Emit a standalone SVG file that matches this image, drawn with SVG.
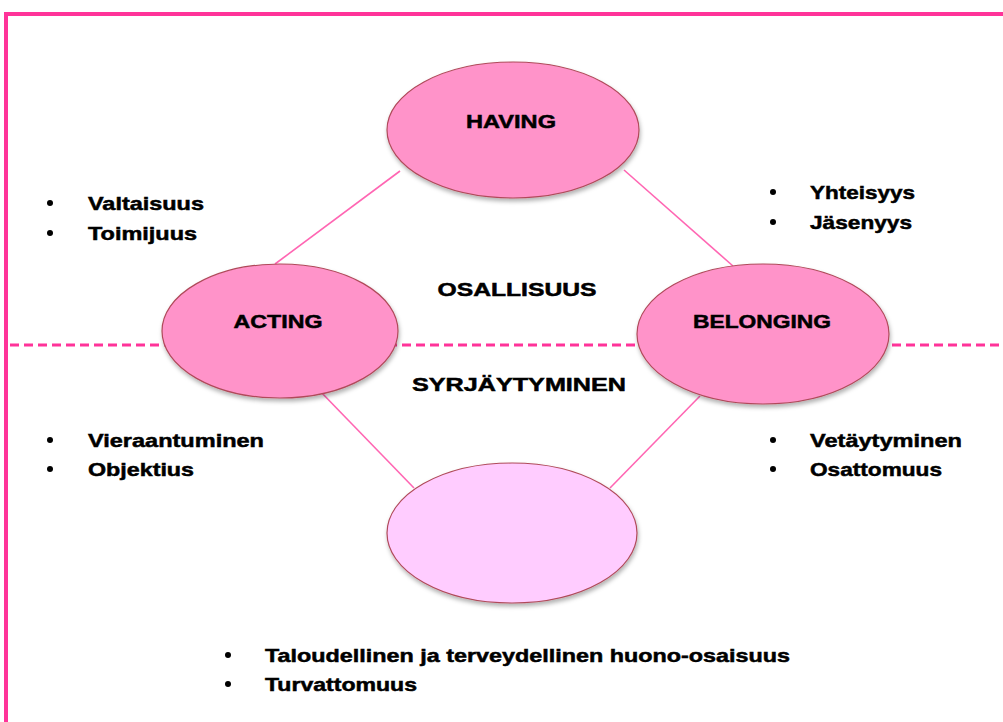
<svg xmlns="http://www.w3.org/2000/svg" width="1003" height="722" viewBox="0 0 1003 722">
<defs>
<filter id="sh" x="-10%" y="-10%" width="130%" height="130%">
<feDropShadow dx="1" dy="3" stdDeviation="2" flood-color="#000" flood-opacity="0.3"/>
</filter>
</defs>
<style>
text{font-family:"Liberation Sans",Arial,sans-serif;font-weight:bold;font-size:19px;fill:#000;stroke:#000;stroke-width:0.5}
.c{text-anchor:middle}
.node{fill:#ff93c9;stroke:#b04a5a;stroke-width:1.2;filter:url(#sh)}
.node2{fill:#ffccff;stroke:#b04a5a;stroke-width:1.2;filter:url(#sh)}
.conn{stroke:#ff66b3;stroke-width:1.6;fill:none}
.dash{stroke:#ff3399;stroke-width:3;stroke-dasharray:9 5;fill:none}
.bul{fill:#000}
</style>
<rect width="1003" height="722" fill="#fff"/>
<path d="M6,722 V14 H1003" fill="none" stroke="#ff3399" stroke-width="4"/>
<g id="connectors">
<line class="dash" x1="10" y1="345" x2="1003" y2="345"/>
<line class="conn" x1="400" y1="171" x2="275" y2="264"/>
<line class="conn" x1="624" y1="170" x2="733" y2="266"/>
<line class="conn" x1="318" y1="389" x2="414" y2="488"/>
<line class="conn" x1="700" y1="396" x2="610" y2="488"/>
</g>
<g id="having">
<ellipse class="node" cx="513" cy="130" rx="126" ry="68"/>
<text class="c" x="511" y="128" textLength="90" lengthAdjust="spacingAndGlyphs">HAVING</text>
</g>
<g id="acting">
<ellipse class="node" cx="280" cy="331" rx="118" ry="67"/>
<text class="c" x="278" y="328" textLength="89" lengthAdjust="spacingAndGlyphs">ACTING</text>
</g>
<g id="belonging">
<ellipse class="node" cx="763" cy="334" rx="126" ry="70"/>
<text class="c" x="762" y="328" textLength="138" lengthAdjust="spacingAndGlyphs">BELONGING</text>
</g>
<g id="bottom">
<ellipse class="node2" cx="512" cy="533" rx="125" ry="70"/>
</g>
<g id="labels">
<text class="c" x="517" y="296" textLength="159" lengthAdjust="spacingAndGlyphs">OSALLISUUS</text>
<text class="c" x="519" y="391" textLength="214" lengthAdjust="spacingAndGlyphs">SYRJÄYTYMINEN</text>
</g>
<g id="list-top-left">
<circle class="bul" cx="50" cy="203" r="3"/>
<circle class="bul" cx="50" cy="233" r="3"/>
<text x="88" y="210" textLength="116" lengthAdjust="spacingAndGlyphs">Valtaisuus</text>
<text x="88" y="240" textLength="109" lengthAdjust="spacingAndGlyphs">Toimijuus</text>
</g>
<g id="list-top-right">
<circle class="bul" cx="773" cy="192" r="3"/>
<circle class="bul" cx="773" cy="222" r="3"/>
<text x="810" y="199" textLength="105" lengthAdjust="spacingAndGlyphs">Yhteisyys</text>
<text x="810" y="229" textLength="102" lengthAdjust="spacingAndGlyphs">Jäsenyys</text>
</g>
<g id="list-bottom-left">
<circle class="bul" cx="50" cy="440" r="3"/>
<circle class="bul" cx="50" cy="469" r="3"/>
<text x="88" y="447" textLength="176" lengthAdjust="spacingAndGlyphs">Vieraantuminen</text>
<text x="88" y="476" textLength="106" lengthAdjust="spacingAndGlyphs">Objektius</text>
</g>
<g id="list-bottom-right">
<circle class="bul" cx="773" cy="440" r="3"/>
<circle class="bul" cx="773" cy="469" r="3"/>
<text x="810" y="447" textLength="152" lengthAdjust="spacingAndGlyphs">Vetäytyminen</text>
<text x="810" y="476" textLength="132" lengthAdjust="spacingAndGlyphs">Osattomuus</text>
</g>
<g id="list-bottom">
<circle class="bul" cx="228" cy="655" r="3"/>
<circle class="bul" cx="228" cy="684" r="3"/>
<text x="265" y="662" textLength="525" lengthAdjust="spacingAndGlyphs">Taloudellinen ja terveydellinen huono-osaisuus</text>
<text x="265" y="691" textLength="152" lengthAdjust="spacingAndGlyphs">Turvattomuus</text>
</g>
</svg>
